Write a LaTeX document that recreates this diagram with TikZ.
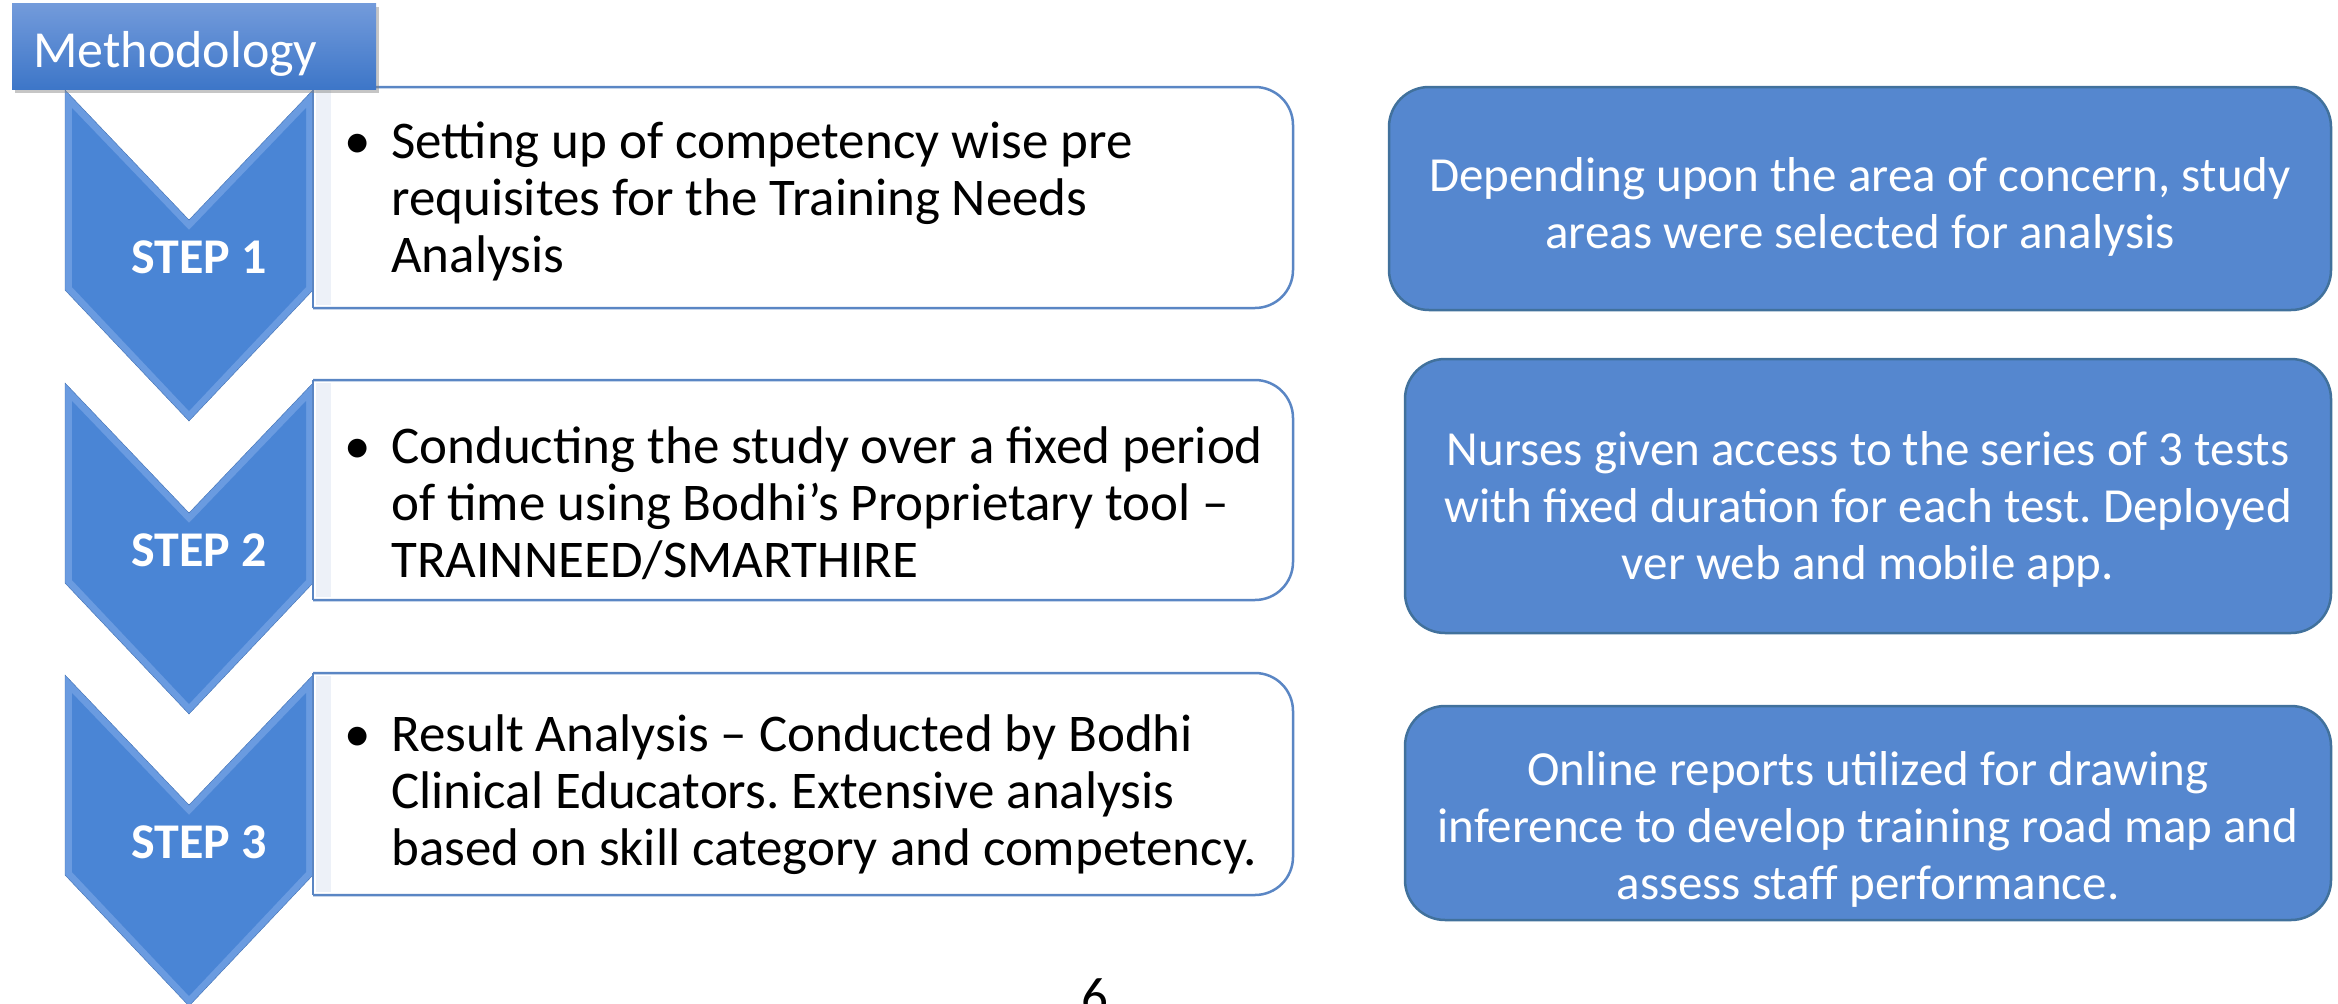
\documentclass[tikz,border=0pt]{standalone}
\usepackage{fontspec}
\setmainfont{Carlito}
\usetikzlibrary{shadows}
\frenchspacing

\definecolor{stepblue}{HTML}{4A85D5}
\definecolor{steprim}{HTML}{6A9BE0}
\definecolor{stepedge}{HTML}{3F6FB3}
\definecolor{boxedge}{HTML}{5A86C4}
\definecolor{noteblue}{HTML}{5587CF}
\definecolor{noteedge}{HTML}{41719C}
\definecolor{titletop}{HTML}{739BDB}
\definecolor{titlebot}{HTML}{3D76C8}
\definecolor{bevel}{HTML}{EDF1F8}

\tikzset{
  txt/.style={font=\fontsize{53}{57}\selectfont, inner sep=0pt},
  listtext/.style={txt, align=left, anchor=north west},
  listbox/.style={fill=white, draw=boxedge, line width=2.5pt},
  notebox/.style={draw=noteedge, line width=2.5pt, fill=noteblue, rounded corners=40pt},
  notetext/.style={font=\fontsize{49}{57}\selectfont, inner sep=0pt, text=white, align=center, anchor=north},
  steplabel/.style={font=\fontsize{50}{60}\selectfont\bfseries, text=white, anchor=base, inner sep=0pt},
  titlebox/.style={top color=titletop, bottom color=titlebot, draw=none,
    drop shadow={shadow xshift=3pt, shadow yshift=-4pt, opacity=.45}},
}

\begin{document}
\begin{tikzpicture}[x=1pt,y=-1pt]
\useasboundingbox (0,0) rectangle (2338,1004);

% chevrons
\filldraw[fill=steprim, draw=stepedge] (65,90) -- (189,220) -- (313,90) -- (313,290) -- (189,421) -- (65,290) -- cycle;
\fill[stepblue] (72,108) -- (189,230) -- (306,108) -- (306,287) -- (189,411) -- (72,287) -- cycle;
\filldraw[fill=steprim, draw=stepedge] (65,383) -- (189,513) -- (313,383) -- (313,583) -- (189,714) -- (65,583) -- cycle;
\fill[stepblue] (72,401) -- (189,523) -- (306,401) -- (306,580) -- (189,704) -- (72,580) -- cycle;
\filldraw[fill=steprim, draw=stepedge] (65,675) -- (189,805) -- (313,675) -- (313,875) -- (189,1006) -- (65,875) -- cycle;
\fill[stepblue] (72,693) -- (189,815) -- (306,693) -- (306,872) -- (189,996) -- (72,872) -- cycle;

\node (step1) [steplabel] at (199,273) {STEP 1};
\node (step2) [steplabel] at (199,566) {STEP 2};
\node (step3) [steplabel] at (199,858) {STEP 3};

% left boxes
\filldraw[listbox, rounded corners=38pt] (313,87) -- (1293,87) -- (1293,308) -- (313,308);
\draw[boxedge, line width=2.5pt] (313,87) -- (313,308);
\fill[bevel] (316,90) rectangle (331,305);
\filldraw[listbox, rounded corners=38pt] (313,380) -- (1293,380) -- (1293,600) -- (313,600);
\draw[boxedge, line width=2.5pt] (313,380) -- (313,600);
\fill[bevel] (316,383) rectangle (331,597);
\filldraw[listbox, rounded corners=38pt] (313,673) -- (1293,673) -- (1293,895) -- (313,895);
\draw[boxedge, line width=2.5pt] (313,673) -- (313,895);
\fill[bevel] (316,676) rectangle (331,892);

\node (dot1) [txt, anchor=base] at (358,158) {\textbullet};
\node (item1) [listtext] at (391,118) {\strut Setting up of competency wise pre\\requisites for the Training Needs\\Analysis};
\node (dot2) [txt, anchor=base] at (358,463) {\textbullet};
\node (item2) [listtext] at (391,423) {\strut Conducting the study over a fixed period\\of time using Bodhi’s Proprietary tool –\\TRAINNEED/SMARTHIRE};
\node (dot3) [txt, anchor=base] at (358,751) {\textbullet};
\node (item3) [listtext] at (391,711) {\strut Result Analysis – Conducted by Bodhi\\Clinical Educators. Extensive analysis\\based on skill category and competency.};

% right boxes
\node (note1) [notebox, minimum width=942pt, minimum height=223pt] at (1860,198.5) {};
\node (note1txt) [notetext] at (1860,151) {\strut Depending upon the area of concern, study\\areas were selected for analysis};
\node (note2) [notebox, minimum width=926pt, minimum height=274pt] at (1868,496) {};
\node (note2txt) [notetext] at (1868,425) {\strut Nurses given access to the series of 3 tests\\with fixed duration for each test. Deployed\\ver web and mobile app.};
\node (note3) [notebox, minimum width=926pt, minimum height=214pt] at (1868,813) {};
\node (note3txt) [notetext] at (1868,745) {\strut Online reports utilized for drawing\\inference to develop training road map and\\assess staff performance.};

% title
\node (method) [titlebox, anchor=north west, minimum width=364pt, minimum height=86pt, inner sep=0pt] at (12,3) {};
\node (methodtxt) [font=\fontsize{52}{60}\selectfont, text=white, anchor=base west, inner sep=0pt] at (33,67) {Methodology};

\node (pagenum) [txt, anchor=base] at (1095,1014) {6};

\end{tikzpicture}
\end{document}
